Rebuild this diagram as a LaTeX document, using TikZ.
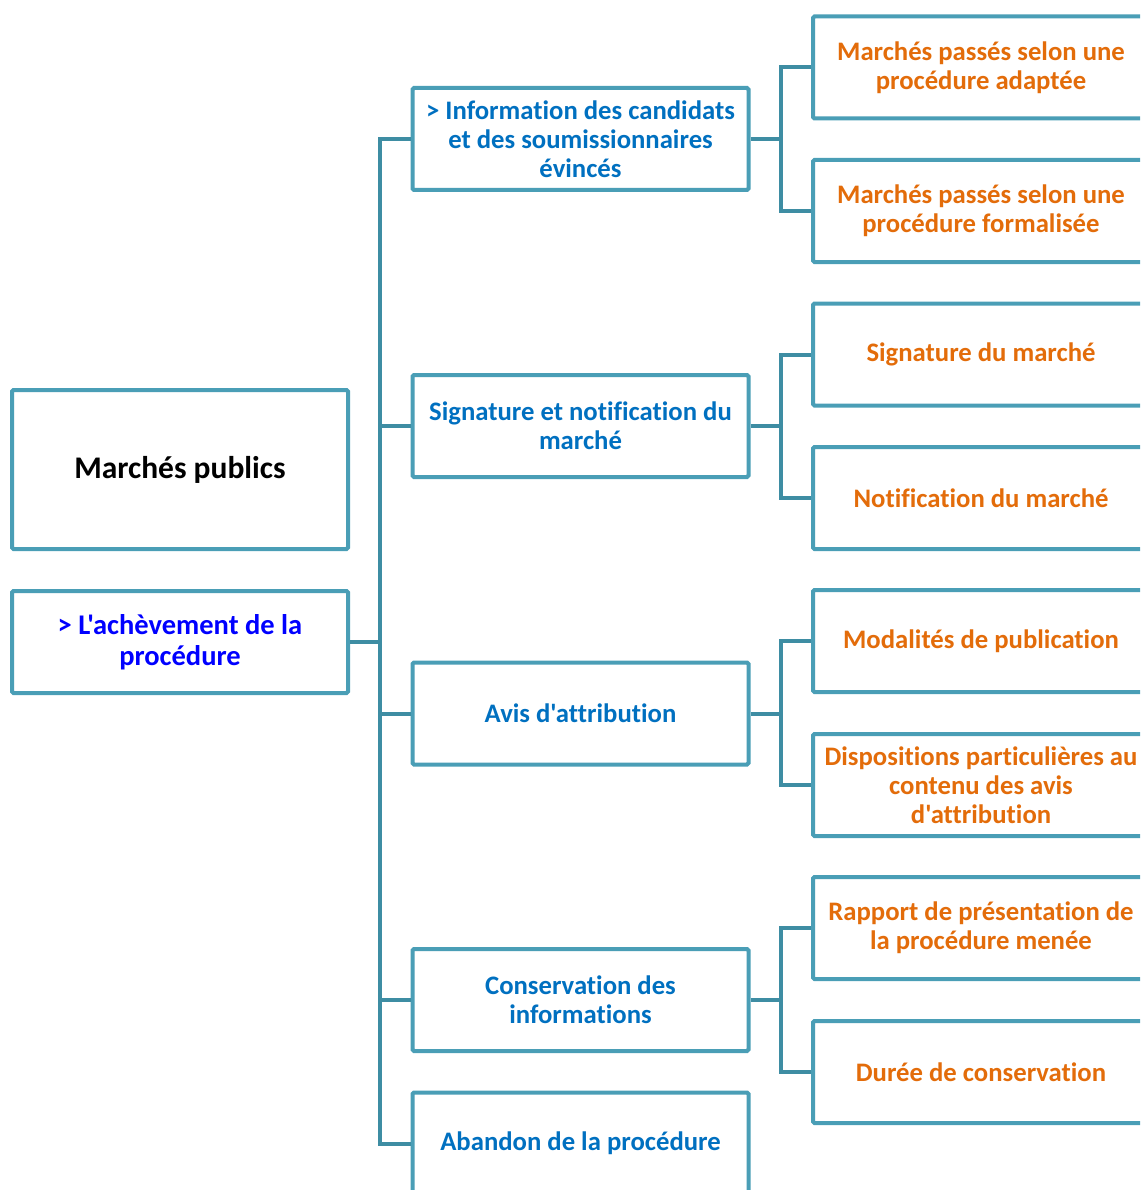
\documentclass[tikz,border=0pt]{standalone}
\usepackage{fontspec}
\newfontfamily\cf{Carlito}[Ligatures=NoCommon]
\definecolor{boxc}{HTML}{4A9EB6}
\definecolor{connc}{HTML}{3E8DA3}
\definecolor{tblue}{HTML}{0070C0}
\definecolor{torange}{HTML}{E36C0A}
\definecolor{pblue}{HTML}{0000FF}
\tikzset{
  box/.style={draw=boxc, line width=4pt, rounded corners=1.5pt, fill=white, minimum width=336pt, minimum height=102pt, align=center, inner sep=0pt, font=\cf\bfseries\fontsize{26.7}{29}\selectfont},
  lvtwo/.style={box, text=tblue},
  lvthree/.style={box, text=torange},
  conn/.style={draw=connc, line width=4pt}
}
\begin{document}
\begin{tikzpicture}[x=1pt,y=-1pt]
\useasboundingbox (0,0) rectangle (1140,1190);
\clip (0,0) rectangle (1140,1190);
% left
\node[box, minimum height=159pt, font=\cf\bfseries\fontsize{31.5}{34}\selectfont] (mp) at (180,469.5) {Marchés publics};
\node[box, text=pblue, font=\cf\bfseries\fontsize{28.5}{31}\selectfont] (ach) at (180,642) {> L'achèvement de la\\procédure};
% level 2
\node[lvtwo] (info) at (580.5,139) {> Information des candidats\\et des soumissionnaires\\évincés};
\node[lvtwo] (sign) at (580.5,426) {Signature et notification du\\marché};
\node[lvtwo] (avis) at (580.5,713.5) {Avis d'attribution};
\node[lvtwo] (cons) at (580.5,1000) {Conservation des\\informations};
\node[lvtwo] (aban) at (580.5,1143.5) {Abandon de la procédure};
% level 3
\node[lvthree] (a1) at (981,67.5) {Marchés passés selon une\\procédure adaptée};
\node[lvthree] (a2) at (981,211) {Marchés passés selon une\\procédure formalisée};
\node[lvthree] (b1) at (981,354.5) {Signature du marché};
\node[lvthree] (b2) at (981,498) {Notification du marché};
\node[lvthree] (c1) at (981,641) {Modalités de publication};
\node[lvthree] (c2) at (981,785) {Dispositions particulières au\\contenu des avis\\d'attribution};
\node[lvthree] (d1) at (981,928) {Rapport de présentation de\\la procédure menée};
\node[lvthree] (d2) at (981,1072) {Durée de conservation};
% trunk
\coordinate (t) at (380,0);
\coordinate (u) at (781,0);
\draw[conn] (ach.east) -- (ach.east -| t);
\draw[conn, line cap=rect] (info.west -| t) -- (aban.west -| t);
\foreach \n in {info,sign,avis,cons,aban}{
  \draw[conn] (\n.west -| t) -- (\n.west);
}
\foreach \p/\q/\r in {info/a1/a2, sign/b1/b2, avis/c1/c2, cons/d1/d2}{
  \draw[conn] (\p.east) -- (\p.east -| u);
  \draw[conn, line cap=rect] (\q.west -| u) -- (\r.west -| u);
  \draw[conn] (\q.west -| u) -- (\q.west);
  \draw[conn] (\r.west -| u) -- (\r.west);
}
\end{tikzpicture}
\end{document}
